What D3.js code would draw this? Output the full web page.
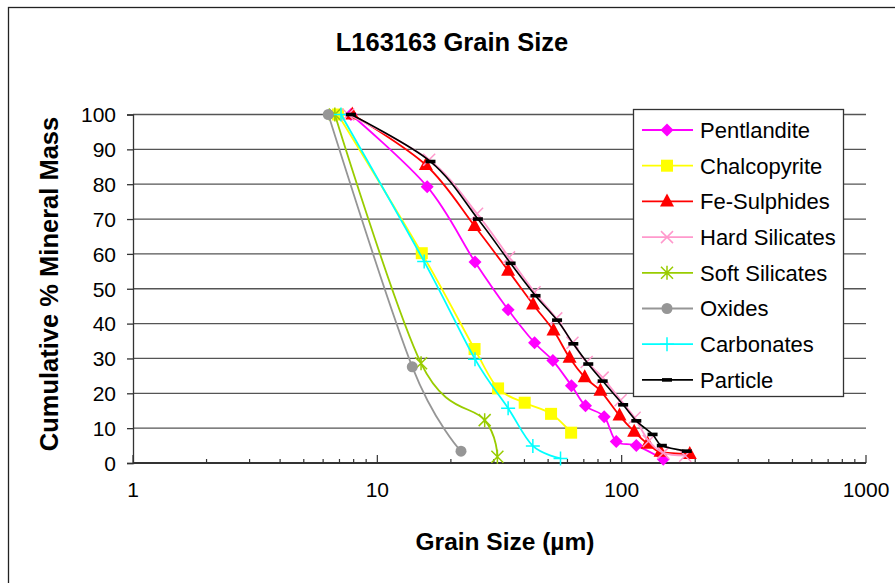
<!DOCTYPE html>
<html><head><meta charset="utf-8">
<script src="https://cdn.jsdelivr.net/npm/d3@7/dist/d3.min.js"></script>
<style>
body{margin:0;background:#fff}
svg{display:block}
text{font-family:"Liberation Sans",Arial,Helvetica,sans-serif;fill:#000}
</style>
</head><body>
<svg id="chart" width="895" height="583"></svg>
<script>
// ---------------- DATA ----------------
const chartTitle = "L163163 Grain Size";
const xTitle = "Grain Size (µm)";
const yTitle = "Cumulative % Mineral Mass";
const xTickValues = [1, 10, 100, 1000];
const yTickValues = [0, 10, 20, 30, 40, 50, 60, 70, 80, 90, 100];
const seriesNames = ["Pentlandite", "Chalcopyrite", "Fe-Sulphides", "Hard Silicates", "Soft Silicates", "Oxides", "Carbonates", "Particle"];

const pentlanditeSize = [7.8, 16.0, 25.1, 34.3, 44.0, 52.3, 62.3, 71.1, 84.8, 95.0, 114.8, 148];
const pentlanditePct  = [100, 79.3, 57.7, 44.0, 34.5, 29.4, 22.2, 16.4, 13.3, 6.2, 5.0, 1.1];

const chalcopyriteSize = [6.9, 15.2, 25.0, 31.2, 40.1, 51.4, 62.1];
const chalcopyritePct  = [100, 60.2, 32.7, 21.4, 17.3, 14.1, 8.7];

const feSulphidesSize = [7.9, 15.8, 25.0, 34.3, 43.4, 52.6, 61.2, 70.6, 81.9, 98.0, 112.5, 127.7, 144.3, 190];
const feSulphidesPct  = [100, 85.5, 68.0, 55.2, 45.5, 38.0, 30.2, 24.6, 20.7, 13.6, 9.0, 5.5, 3.2, 2.6];

const hardSilicatesSize = [7.6, 16.3, 25.6, 34.6, 44.0, 54.0, 62.9, 71.9, 83.6, 99, 113, 129, 148, 182];
const hardSilicatesPct  = [100, 87.0, 71.5, 59.0, 49.0, 41.5, 34.5, 29.0, 24.5, 18.0, 13.0, 6.3, 2.9, 2.1];

const softSilicatesSize = [6.7, 15.1, 27.5, 31.0];
const softSilicatesPct  = [100, 28.6, 12.3, 1.8];

const oxidesSize = [6.3, 13.9, 22.0];
const oxidesPct  = [100, 27.6, 3.4];

const carbonatesSize = [7.1, 15.55, 25.1, 34.3, 43.3, 56.2];
const carbonatesPct  = [100, 57.8, 29.8, 15.7, 4.9, 1.3];

const particleSize = [7.8, 16.5, 25.8, 35.1, 44.4, 54.4, 63.4, 73.0, 83.6, 101.4, 114.8, 133.8, 146.0, 184.7];
const particlePct  = [100, 86.5, 70.0, 57.3, 48.0, 41.0, 34.2, 28.4, 23.5, 16.7, 12.1, 8.2, 5.0, 3.4];

// ---------------- STYLE ----------------
const seriesStyle = [
  {color: "#FF00FF", marker: "diamond"},
  {color: "#FFFF00", marker: "square"},
  {color: "#FF0000", marker: "triangle"},
  {color: "#FF99CC", marker: "x"},
  {color: "#99CC00", marker: "star"},
  {color: "#969696", marker: "circle"},
  {color: "#00FFFF", marker: "plus"},
  {color: "#000000", marker: "dash"}
];
const seriesData = [
  [pentlanditeSize, pentlanditePct],
  [chalcopyriteSize, chalcopyritePct],
  [feSulphidesSize, feSulphidesPct],
  [hardSilicatesSize, hardSilicatesPct],
  [softSilicatesSize, softSilicatesPct],
  [oxidesSize, oxidesPct],
  [carbonatesSize, carbonatesPct],
  [particleSize, particlePct]
];

const plot = {left: 133, right: 866, top: 114.5, bottom: 463};
const svg = d3.select("#chart");

// outer chart border
svg.append("rect").attr("x", 8.5).attr("y", 7.5).attr("width", 895).attr("height", 600)
  .attr("fill", "#fff").attr("stroke", "#222").attr("stroke-width", 1.3);

const x = d3.scaleLog().domain([1, 1000]).range([plot.left, plot.right]);
const y = d3.scaleLinear().domain([0, 100]).range([plot.bottom, plot.top]);

// gridlines
svg.append("g").selectAll("line").data(yTickValues.filter(d => d > 0)).join("line")
  .attr("x1", plot.left).attr("x2", plot.right)
  .attr("y1", d => y(d)).attr("y2", d => y(d))
  .attr("stroke", "#555").attr("stroke-width", 1.3);

// y axis
const yAxis = d3.axisLeft(y).tickValues(yTickValues).tickSize(6).tickPadding(11).tickFormat(d3.format("d"));
const gy = svg.append("g").attr("transform", `translate(${plot.left},0)`).call(yAxis);
gy.select(".domain").attr("stroke", "#333").attr("stroke-width", 1.3);
gy.selectAll(".tick line").attr("stroke", "#333").attr("stroke-width", 1.3);
gy.selectAll("text").style("font-size", "21px").attr("fill", "#000").attr("dy", "0.35em");

// x axis: major + minor ticks inside
const minorTicks = [];
[1, 10, 100].forEach(dec => { for (let k = 2; k <= 9; k++) minorTicks.push(dec * k); });
const gx = svg.append("g").attr("transform", `translate(0,${plot.bottom})`);
gx.append("line").attr("x1", plot.left).attr("x2", plot.right).attr("stroke", "#333").attr("stroke-width", 2);
gx.selectAll("line.minor").data(minorTicks).join("line").attr("class", "minor")
  .attr("x1", d => x(d)).attr("x2", d => x(d)).attr("y1", 0).attr("y2", -4)
  .attr("stroke", "#333").attr("stroke-width", 1.2);
gx.selectAll("line.major").data(xTickValues).join("line").attr("class", "major")
  .attr("x1", d => x(d)).attr("x2", d => x(d)).attr("y1", 0).attr("y2", -8)
  .attr("stroke", "#333").attr("stroke-width", 1.2);
gx.selectAll("text").data(xTickValues).join("text")
  .attr("x", d => x(d)).attr("y", 34).attr("text-anchor", "middle")
  .style("font-size", "21px").text(d => d);

// titles
svg.append("text").attr("x", 452).attr("y", 51).attr("text-anchor", "middle")
  .style("font-size", "25.5px").style("font-weight", "bold").text(chartTitle);
svg.append("text").attr("x", 505).attr("y", 550).attr("text-anchor", "middle")
  .style("font-size", "24.5px").style("font-weight", "bold").text(xTitle);
svg.append("text").attr("transform", `translate(58,284) rotate(-90)`).attr("text-anchor", "middle")
  .style("font-size", "25.5px").style("font-weight", "bold").text(yTitle);

// marker drawing
function drawMarker(g, type, color) {
  const s = 6.5;
  if (type === "diamond") g.append("path").attr("d", `M0,${-s}L${s},0L0,${s}L${-s},0Z`).attr("fill", color);
  else if (type === "square") g.append("rect").attr("x", -6).attr("y", -6).attr("width", 12).attr("height", 12).attr("fill", color);
  else if (type === "triangle") g.append("path").attr("d", `M0,-8L7,5L-7,5Z`).attr("fill", color);
  else if (type === "x") g.append("path").attr("d", `M-6,-6L6,6M-6,6L6,-6`).attr("stroke", color).attr("stroke-width", 1.5);
  else if (type === "star") g.append("path").attr("d", `M-6,-6L6,6M-6,6L6,-6M0,-7L0,7`).attr("stroke", color).attr("stroke-width", 1.5);
  else if (type === "circle") g.append("circle").attr("r", 5.5).attr("fill", color);
  else if (type === "plus") g.append("path").attr("d", `M-7,0L7,0M0,-7L0,7`).attr("stroke", color).attr("stroke-width", 1.5);
  else if (type === "dash") g.append("rect").attr("x", -5).attr("y", -1.8).attr("width", 10).attr("height", 3.6).attr("fill", color);
}

const line = d3.line().x(d => x(d[0])).y(d => y(d[1])).curve(d3.curveCardinal.tension(0));

// series
seriesData.forEach((sd, i) => {
  const pts = sd[0].map((v, j) => [v, sd[1][j]]);
  const st = seriesStyle[i];
  const g = svg.append("g");
  g.append("path").attr("d", line(pts)).attr("fill", "none")
    .attr("stroke", st.color).attr("stroke-width", i === 7 ? 1.6 : 1.8);
  pts.forEach(p => {
    const m = g.append("g").attr("transform", `translate(${x(p[0])},${y(p[1])})`);
    drawMarker(m, st.marker, st.color);
  });
});

// legend
const lg = svg.append("g");
lg.append("rect").attr("x", 633.5).attr("y", 109.5).attr("width", 210).attr("height", 287)
  .attr("fill", "#fff").attr("stroke", "#333").attr("stroke-width", 1.3);
seriesNames.forEach((name, i) => {
  const cy = 130 + i * 35.7;
  const st = seriesStyle[i];
  lg.append("line").attr("x1", 642).attr("x2", 693).attr("y1", cy).attr("y2", cy)
    .attr("stroke", st.color).attr("stroke-width", 1.8);
  const m = lg.append("g").attr("transform", `translate(667,${cy})`);
  drawMarker(m, st.marker, st.color);
  lg.append("text").attr("x", 700).attr("y", cy).attr("dy", "0.36em")
    .style("font-size", "22px").text(name);
});
</script>
</body></html>
